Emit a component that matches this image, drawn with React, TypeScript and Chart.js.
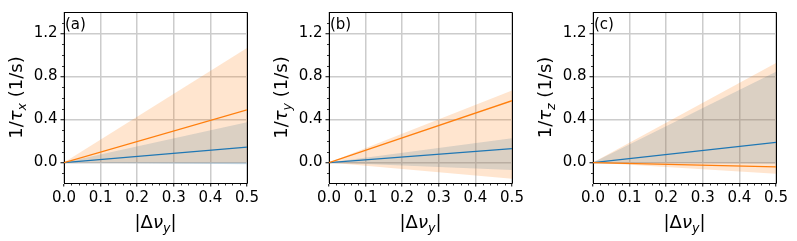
import React, { useEffect, useRef } from 'react';
import { Chart, registerables } from 'chart.js';

Chart.register(...registerables);

// ---- data ----
const xPoints = [0, 0.5];
const panelLabels = ['(a)', '(b)', '(c)'];
const panelSubscripts = ['x', 'y', 'z'];

const blueMeanA = [0, 0.144];
const blueUpperA = [0, 0.375];
const blueLowerA = [0, -0.015];
const orangeMeanA = [0, 0.49];
const orangeUpperA = [0, 1.065];
const orangeLowerA = [0, 0.0];

const blueMeanB = [0, 0.13];
const blueUpperB = [0, 0.225];
const blueLowerB = [0, -0.07];
const orangeMeanB = [0, 0.575];
const orangeUpperB = [0, 0.67];
const orangeLowerB = [0, -0.15];

const blueMeanC = [0, 0.188];
const blueUpperC = [0, 0.845];
const blueLowerC = [0, -0.008];
const orangeMeanC = [0, -0.04];
const orangeUpperC = [0, 0.925];
const orangeLowerC = [0, -0.105];

const xMajorTicks = [0, 0.1, 0.2, 0.3, 0.4, 0.5];
const xMinorTicks = [0.02, 0.04, 0.06, 0.08, 0.12, 0.14, 0.16, 0.18, 0.22, 0.24, 0.26, 0.28, 0.32, 0.34, 0.36, 0.38, 0.42, 0.44, 0.46, 0.48];
const yMajorTicks = [0, 0.4, 0.8, 1.2];
const yMinorTicks = [-0.1, 0.1, 0.2, 0.3, 0.5, 0.6, 0.7, 0.9, 1.0, 1.1, 1.3];
const xRange = [0, 0.5];
const yRange = [-0.19, 1.4];

const panelData = [
  { blueMean: blueMeanA, blueUpper: blueUpperA, blueLower: blueLowerA, orangeMean: orangeMeanA, orangeUpper: orangeUpperA, orangeLower: orangeLowerA },
  { blueMean: blueMeanB, blueUpper: blueUpperB, blueLower: blueLowerB, orangeMean: orangeMeanB, orangeUpper: orangeUpperB, orangeLower: orangeLowerB },
  { blueMean: blueMeanC, blueUpper: blueUpperC, blueLower: blueLowerC, orangeMean: orangeMeanC, orangeUpper: orangeUpperC, orangeLower: orangeLowerC },
];

// ---- styles ----
const BLUE = '#1f77b4';
const ORANGE = '#ff7f0e';
const BLUE_FILL = 'rgba(31,119,180,0.2)';
const ORANGE_FILL = 'rgba(255,127,14,0.2)';
const FONT = '"DejaVu Sans"';
const TICK_SIZE = 15;
const TITLE_SIZE = 18;

const panelLefts = [0, 265, 529];
const panelWidths = [265, 265, 268];
const CHART_RIGHT = 247;

type Run = { t: string; italic?: boolean; sub?: boolean };

function runFont(r: Run, size: number) {
  const s = r.sub ? size * 0.7 : size;
  return `${r.italic ? 'italic ' : ''}${s}px ${FONT}`;
}

function drawRuns(ctx: CanvasRenderingContext2D, runs: Run[], size: number) {
  let w = 0;
  for (const r of runs) {
    ctx.font = runFont(r, size);
    w += ctx.measureText(r.t).width;
  }
  let x = -w / 2;
  ctx.textBaseline = 'alphabetic';
  ctx.textAlign = 'left';
  for (const r of runs) {
    ctx.font = runFont(r, size);
    ctx.fillText(r.t, x, r.sub ? size * 0.22 : 0);
    x += ctx.measureText(r.t).width;
  }
}

function makeDecorPlugin(idx: number) {
  return {
    id: 'decor' + idx,
    afterDraw(chart: any) {
      const { ctx, chartArea: a, scales } = chart;
      const xs = scales.x;
      const ys = scales.y;
      ctx.save();
      // frame (top & right)
      ctx.strokeStyle = '#000';
      ctx.lineWidth = 1;
      const R = Math.round(a.right) + 0.5;
      const T = Math.round(a.top) + 0.5;
      const B = Math.round(a.bottom) + 0.5;
      const L = Math.round(a.left) + 0.5;
      ctx.beginPath();
      ctx.moveTo(L, T);
      ctx.lineTo(R, T);
      ctx.lineTo(R, B);
      ctx.stroke();
      // minor ticks
      ctx.lineWidth = 0.8;
      ctx.beginPath();
      for (const v of yMinorTicks) {
        const p = Math.round(ys.getPixelForValue(v)) + 0.5;
        ctx.moveTo(a.left - 2, p);
        ctx.lineTo(a.left, p);
      }
      for (const v of xMinorTicks) {
        const p = Math.round(xs.getPixelForValue(v)) + 0.5;
        ctx.moveTo(p, a.bottom);
        ctx.lineTo(p, a.bottom + 2.5);
      }
      ctx.stroke();
      ctx.fillStyle = '#000';
      // panel label
      ctx.font = `${TICK_SIZE}px ${FONT}`;
      ctx.textAlign = 'left';
      ctx.textBaseline = 'alphabetic';
      ctx.fillText(panelLabels[idx], a.left + 1, a.top + 17);
      // x title
      ctx.save();
      ctx.translate((a.left + a.right) / 2, 228);
      drawRuns(ctx, [{ t: '|Δ' }, { t: 'ν', italic: true }, { t: 'y', italic: true, sub: true }, { t: '|' }], TITLE_SIZE);
      ctx.restore();
      // y title
      ctx.save();
      ctx.translate(22, (a.top + a.bottom) / 2);
      ctx.rotate(-Math.PI / 2);
      drawRuns(ctx, [{ t: '1/' }, { t: 'τ', italic: true }, { t: panelSubscripts[idx], italic: true, sub: true }, { t: ' (1/s)' }], TITLE_SIZE);
      ctx.restore();
      ctx.restore();
    },
  };
}

function pts(ys: number[]) {
  return xPoints.map((x, i) => ({ x, y: ys[i] }));
}

function Panel({ idx }: { idx: number }) {
  const ref = useRef<HTMLCanvasElement>(null);
  const width = panelWidths[idx];
  useEffect(() => {
    const d = panelData[idx];
    const band = (data: number[], color: string, fill: any, order: number) => ({
      data: pts(data),
      borderWidth: 0,
      borderColor: 'transparent',
      backgroundColor: color,
      pointRadius: 0,
      fill,
      order,
    });
    const line = (data: number[], color: string, order: number) => ({
      data: pts(data),
      borderWidth: 1.3,
      borderColor: color,
      backgroundColor: color,
      pointRadius: 0,
      fill: false,
      order,
    });
    const tickCommon = {
      font: { family: 'DejaVu Sans', size: TICK_SIZE },
      color: '#000',
      padding: 3,
      maxRotation: 0,
      autoSkip: false,
      callback: (v: any) => Number(v).toFixed(1),
    };
    const gridCommon = {
      color: '#cccccc',
      lineWidth: 1.5,
      tickColor: '#000',
      tickLength: 3.5,
      tickWidth: 1,
    };
    const chart = new Chart(ref.current!, {
      type: 'line',
      data: {
        datasets: [
          band(d.blueUpper, BLUE_FILL, '+1', 10),
          band(d.blueLower, 'transparent', false, 9),
          band(d.orangeUpper, ORANGE_FILL, '+1', 8),
          band(d.orangeLower, 'transparent', false, 7),
          line(d.blueMean, BLUE, 2),
          line(d.orangeMean, ORANGE, 1),
        ] as any,
      },
      options: {
        animation: false,
        responsive: false,
        events: [],
        layout: { padding: { top: 7, right: width - CHART_RIGHT, left: 0, bottom: 0 } },
        plugins: {
          legend: { display: false },
          tooltip: { enabled: false },
          filler: { drawTime: 'beforeDatasetsDraw' } as any,
        },
        scales: {
          x: {
            type: 'linear',
            min: xRange[0],
            max: xRange[1],
            afterBuildTicks: (s: any) => {
              s.ticks = xMajorTicks.map((v) => ({ value: v }));
            },
            afterFit: (s: any) => {
              s.height = 58;
            },
            grid: gridCommon,
            border: { color: '#000', width: 1 },
            ticks: tickCommon,
          },
          y: {
            type: 'linear',
            min: yRange[0],
            max: yRange[1],
            afterBuildTicks: (s: any) => {
              s.ticks = yMajorTicks.map((v) => ({ value: v }));
            },
            afterFit: (s: any) => {
              s.width = 64;
            },
            grid: gridCommon,
            border: { color: '#000', width: 1 },
            ticks: tickCommon,
          },
        },
      } as any,
      plugins: [makeDecorPlugin(idx)],
    });
    return () => chart.destroy();
  }, [idx, width]);
  return (
    <canvas
      ref={ref}
      width={width}
      height={241}
      style={{ position: 'absolute', left: panelLefts[idx], top: 0, width, height: 241 }}
    />
  );
}

export default function App() {
  return (
    <div style={{ position: 'absolute', left: 0, top: 0, width: 797, height: 241, background: '#fff', overflow: 'hidden' }}>
      {[0, 1, 2].map((i) => (
        <Panel key={i} idx={i} />
      ))}
    </div>
  );
}
